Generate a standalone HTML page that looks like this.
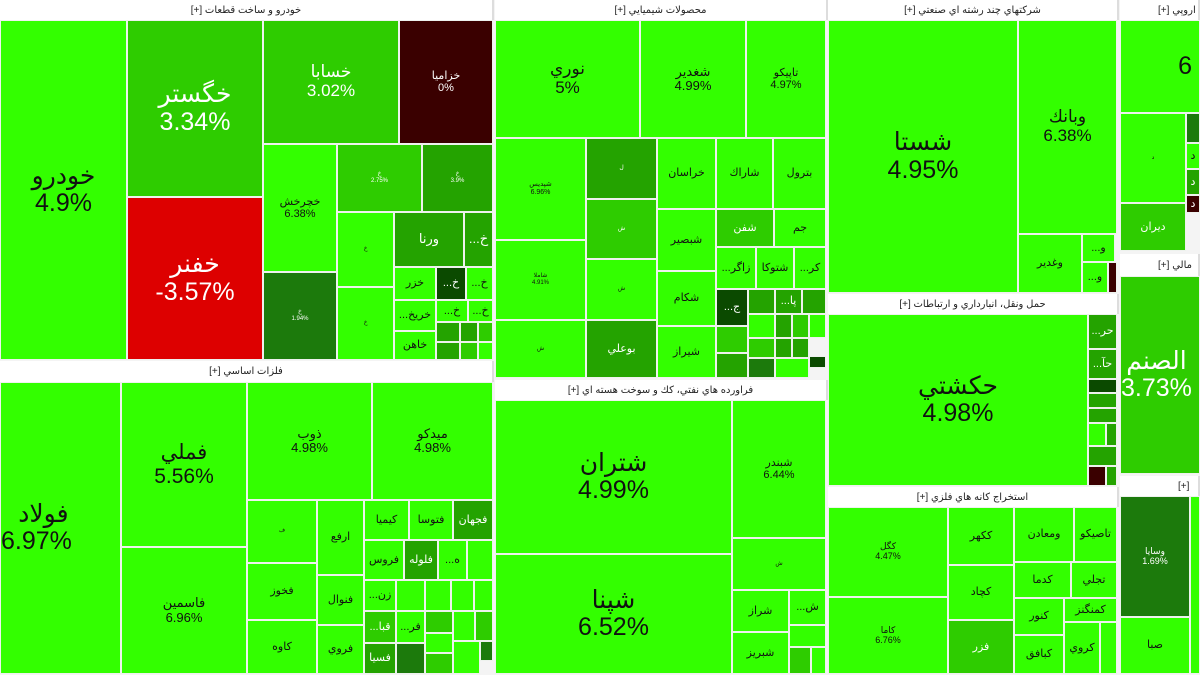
<!DOCTYPE html>
<html><head><meta charset="utf-8"><style>
body{margin:0;width:1200px;height:675px;overflow:hidden;background:#f4f4f4;position:relative;font-family:"Liberation Sans","DejaVu Sans",sans-serif}
.c{position:absolute;box-sizing:border-box;border:1px solid #eef2ee;display:flex;flex-direction:column;align-items:center;justify-content:center;text-align:center;line-height:1.1;color:#111;background:#33ff00;overflow:hidden;white-space:nowrap}
.h{position:absolute;box-sizing:border-box;background:#fff;font-size:10px;color:#222;display:flex;align-items:center;justify-content:center;border-right:2px solid #ddd}
.h span{direction:rtl;unicode-bidi:embed}
.h2{justify-content:flex-start}
.m{background:#2ecc00;color:#fff}.d{background:#24a300;color:#fff}.dd{background:#1c7a0c;color:#fff}.k{background:#0b4a00;color:#fff}.r{background:#dd0000;color:#fff}.mr{background:#3a0000;color:#fff}
.L{font-size:25px}.M{font-size:17px}.S{font-size:13px}.X{font-size:11px}.T{font-size:6px}
</style></head><body>
<div class="h" style="left:0;top:0;width:494px;height:20px"><span>خودرو و ساخت قطعات [+]</span></div>
<div class="c L" style="left:0;top:20px;width:127px;height:340px">خودرو<br>4.9%</div>
<div class="c m L" style="left:127px;top:20px;width:136px;height:177px">خگستر<br>3.34%</div>
<div class="c r L" style="left:127px;top:197px;width:136px;height:163px">خفنر<br>-3.57%</div>
<div class="c m M" style="left:263px;top:20px;width:136px;height:124px">خسابا<br>3.02%</div>
<div class="c mr X" style="left:399px;top:20px;width:94px;height:124px">خزاميا<br>0%</div>
<div class="c X" style="left:263px;top:144px;width:74px;height:128px">خچرخش<br>6.38%</div>
<div class="c m T" style="left:337px;top:144px;width:85px;height:68px">خ<br>2.75%</div>
<div class="c d T" style="left:422px;top:144px;width:71px;height:68px">خ<br>3.9%</div>
<div class="c dd T" style="left:263px;top:272px;width:74px;height:88px">خ<br>1.94%</div>
<div class="c T" style="left:337px;top:212px;width:57px;height:75px">خ</div>
<div class="c T" style="left:337px;top:287px;width:57px;height:73px">خ</div>
<div class="c d S" style="left:394px;top:212px;width:70px;height:55px">ورنا</div>
<div class="c d S" style="left:464px;top:212px;width:29px;height:55px">...خ</div>
<div class="c X" style="left:394px;top:267px;width:42px;height:33px">خزر</div>
<div class="c k X" style="left:436px;top:267px;width:30px;height:33px">...خ</div>
<div class="c X" style="left:466px;top:267px;width:27px;height:33px">...خ</div>
<div class="c X" style="left:394px;top:300px;width:42px;height:31px">...خريخ</div>
<div class="c X" style="left:436px;top:300px;width:32px;height:22px">...خ</div>
<div class="c X" style="left:468px;top:300px;width:25px;height:22px">...خ</div>
<div class="c X" style="left:394px;top:331px;width:42px;height:29px">خاهن</div>
<div class="c d" style="left:436px;top:322px;width:24px;height:20px"></div>
<div class="c d" style="left:460px;top:322px;width:18px;height:20px"></div>
<div class="c m" style="left:478px;top:322px;width:15px;height:20px"></div>
<div class="c d" style="left:436px;top:342px;width:24px;height:18px"></div>
<div class="c m" style="left:460px;top:342px;width:18px;height:18px"></div>
<div class="c" style="left:478px;top:342px;width:15px;height:18px"></div>

<div class="h" style="left:0;top:361px;width:494px;height:21px"><span>فلزات اساسي [+]</span></div>
<div class="c L" style="left:0;top:382px;width:121px;height:292px;align-items:flex-start">&nbsp;&nbsp;فولاد<br>6.97%</div>
<div class="c L" style="left:121px;top:382px;width:126px;height:165px;font-size:21px">فملي<br>5.56%</div>
<div class="c S" style="left:121px;top:547px;width:126px;height:127px">فاسمين<br>6.96%</div>
<div class="c S" style="left:247px;top:382px;width:125px;height:118px">ذوب<br>4.98%</div>
<div class="c S" style="left:372px;top:382px;width:121px;height:118px">ميدكو<br>4.98%</div>
<div class="c T" style="left:247px;top:500px;width:70px;height:63px">ف</div>
<div class="c X" style="left:317px;top:500px;width:47px;height:75px">ارفع</div>
<div class="c X" style="left:247px;top:563px;width:70px;height:57px">فخوز</div>
<div class="c X" style="left:247px;top:620px;width:70px;height:54px">كاوه</div>
<div class="c X" style="left:317px;top:575px;width:47px;height:50px">فنوال</div>
<div class="c X" style="left:317px;top:625px;width:47px;height:49px">فروي</div>
<div class="c X" style="left:364px;top:500px;width:45px;height:40px">كيميا</div>
<div class="c X" style="left:409px;top:500px;width:44px;height:40px">فتوسا</div>
<div class="c d X" style="left:453px;top:500px;width:40px;height:40px">فجهان</div>
<div class="c X" style="left:364px;top:540px;width:40px;height:40px">فروس</div>
<div class="c d X" style="left:404px;top:540px;width:34px;height:40px">فلوله</div>
<div class="c X" style="left:438px;top:540px;width:29px;height:40px">...ه</div>
<div class="c" style="left:467px;top:540px;width:26px;height:40px"></div>
<div class="c X" style="left:364px;top:580px;width:32px;height:31px">...زن</div>
<div class="c" style="left:396px;top:580px;width:29px;height:31px"></div>
<div class="c" style="left:425px;top:580px;width:26px;height:31px"></div>
<div class="c" style="left:451px;top:580px;width:23px;height:31px"></div>
<div class="c" style="left:474px;top:580px;width:19px;height:31px"></div>
<div class="c m X" style="left:364px;top:611px;width:32px;height:32px">...قبا</div>
<div class="c X" style="left:396px;top:611px;width:29px;height:32px">...فر</div>
<div class="c m" style="left:425px;top:611px;width:28px;height:22px"></div>
<div class="c" style="left:453px;top:611px;width:22px;height:30px"></div>
<div class="c m" style="left:475px;top:611px;width:18px;height:30px"></div>
<div class="c d X" style="left:364px;top:643px;width:32px;height:31px">فسيا</div>
<div class="c dd" style="left:396px;top:643px;width:29px;height:31px"></div>
<div class="c" style="left:425px;top:633px;width:28px;height:20px"></div>
<div class="c m" style="left:425px;top:653px;width:28px;height:21px"></div>
<div class="c" style="left:453px;top:641px;width:27px;height:33px"></div>
<div class="c dd" style="left:480px;top:641px;width:13px;height:20px"></div>

<div class="h" style="left:495px;top:0;width:333px;height:20px"><span>محصولات شيميايي [+]</span></div>
<div class="c M" style="left:495px;top:20px;width:145px;height:118px">نوري<br>5%</div>
<div class="c S" style="left:640px;top:20px;width:106px;height:118px">شغدير<br>4.99%</div>
<div class="c X" style="left:746px;top:20px;width:80px;height:118px">تاپيكو<br>4.97%</div>
<div class="c T" style="left:495px;top:138px;width:91px;height:102px;font-size:7px">شپديس<br>6.96%</div>
<div class="c T" style="left:495px;top:240px;width:91px;height:80px">شاملا<br>4.91%</div>
<div class="c T" style="left:495px;top:320px;width:91px;height:58px">ش</div>
<div class="c d T" style="left:586px;top:138px;width:71px;height:61px">ل</div>
<div class="c m T" style="left:586px;top:199px;width:71px;height:60px">ش</div>
<div class="c T" style="left:586px;top:259px;width:71px;height:61px">ش</div>
<div class="c d X" style="left:586px;top:320px;width:71px;height:58px">بوعلي</div>
<div class="c X" style="left:657px;top:138px;width:59px;height:71px">خراسان</div>
<div class="c X" style="left:657px;top:209px;width:59px;height:62px">شبصير</div>
<div class="c X" style="left:657px;top:271px;width:59px;height:55px">شكام</div>
<div class="c X" style="left:657px;top:326px;width:59px;height:52px">شيراز</div>
<div class="c X" style="left:716px;top:138px;width:57px;height:71px">شاراك</div>
<div class="c X" style="left:773px;top:138px;width:53px;height:71px">بترول</div>
<div class="c m X" style="left:716px;top:209px;width:58px;height:38px">شفن</div>
<div class="c X" style="left:774px;top:209px;width:52px;height:38px">جم</div>
<div class="c X" style="left:716px;top:247px;width:40px;height:42px">...زاگر</div>
<div class="c X" style="left:756px;top:247px;width:38px;height:42px">شتوكا</div>
<div class="c X" style="left:794px;top:247px;width:32px;height:42px">...كر</div>
<div class="c k X" style="left:716px;top:289px;width:32px;height:37px">...ج</div>
<div class="c d" style="left:748px;top:289px;width:27px;height:25px"></div>
<div class="c d X" style="left:775px;top:289px;width:27px;height:25px">...پا</div>
<div class="c d" style="left:802px;top:289px;width:24px;height:25px"></div>
<div class="c m" style="left:716px;top:326px;width:32px;height:27px"></div>
<div class="c d" style="left:716px;top:353px;width:32px;height:25px"></div>
<div class="c" style="left:748px;top:314px;width:27px;height:24px"></div>
<div class="c d" style="left:775px;top:314px;width:17px;height:24px"></div>
<div class="c m" style="left:792px;top:314px;width:17px;height:24px"></div>
<div class="c" style="left:809px;top:314px;width:17px;height:24px"></div>
<div class="c m" style="left:748px;top:338px;width:27px;height:20px"></div>
<div class="c dd" style="left:748px;top:358px;width:27px;height:20px"></div>
<div class="c d" style="left:775px;top:338px;width:17px;height:20px"></div>
<div class="c d" style="left:792px;top:338px;width:17px;height:20px"></div>
<div class="c k" style="left:809px;top:356px;width:17px;height:12px"></div>
<div class="c" style="left:775px;top:358px;width:34px;height:20px"></div>

<div class="h" style="left:495px;top:380px;width:333px;height:20px"><span>فراورده هاي نفتي، كك و سوخت هسته اي [+]</span></div>
<div class="c L" style="left:495px;top:400px;width:237px;height:154px">شتران<br>4.99%</div>
<div class="c L" style="left:495px;top:554px;width:237px;height:120px">شپنا<br>6.52%</div>
<div class="c X" style="left:732px;top:400px;width:94px;height:138px">شبندر<br>6.44%</div>
<div class="c T" style="left:732px;top:538px;width:94px;height:52px">ش</div>
<div class="c X" style="left:732px;top:590px;width:57px;height:42px">شراز</div>
<div class="c X" style="left:789px;top:590px;width:37px;height:35px">...ش</div>
<div class="c X" style="left:732px;top:632px;width:57px;height:42px">شبريز</div>
<div class="c" style="left:789px;top:625px;width:37px;height:22px"></div>
<div class="c m" style="left:789px;top:647px;width:22px;height:27px"></div>
<div class="c" style="left:811px;top:647px;width:15px;height:27px"></div>

<div class="h" style="left:828px;top:0;width:291px;height:20px"><span>شركتهاي چند رشته اي صنعتي [+]</span></div>
<div class="c L" style="left:828px;top:20px;width:190px;height:273px">شستا<br>4.95%</div>
<div class="c M" style="left:1018px;top:20px;width:99px;height:214px">وبانك<br>6.38%</div>
<div class="c X" style="left:1018px;top:234px;width:64px;height:59px">وغدير</div>
<div class="c X" style="left:1082px;top:234px;width:33px;height:28px">...و</div>
<div class="c X" style="left:1082px;top:262px;width:26px;height:31px">...و</div>
<div class="c mr" style="left:1108px;top:262px;width:9px;height:31px"></div>
<div class="h" style="left:828px;top:294px;width:291px;height:20px"><span>حمل ونقل، انبارداري و ارتباطات [+]</span></div>
<div class="c L" style="left:828px;top:314px;width:260px;height:172px">حكشتي<br>4.98%</div>
<div class="c d X" style="left:1088px;top:314px;width:29px;height:35px">...حر</div>
<div class="c d X" style="left:1088px;top:349px;width:29px;height:30px">...حآ</div>
<div class="c k" style="left:1088px;top:379px;width:29px;height:14px"></div>
<div class="c d" style="left:1088px;top:393px;width:29px;height:15px"></div>
<div class="c d" style="left:1088px;top:408px;width:29px;height:15px"></div>
<div class="c" style="left:1088px;top:423px;width:18px;height:23px"></div>
<div class="c d" style="left:1106px;top:423px;width:11px;height:23px"></div>
<div class="c d" style="left:1088px;top:446px;width:29px;height:20px"></div>
<div class="c mr" style="left:1088px;top:466px;width:18px;height:20px"></div>
<div class="c d" style="left:1106px;top:466px;width:11px;height:20px"></div>
<div class="h" style="left:828px;top:487px;width:291px;height:20px"><span>استخراج كانه هاي فلزي [+]</span></div>
<div class="c X" style="left:828px;top:507px;width:120px;height:90px;font-size:9px">كگل<br>4.47%</div>
<div class="c X" style="left:828px;top:597px;width:120px;height:77px;font-size:9px">كاما<br>6.76%</div>
<div class="c X" style="left:948px;top:507px;width:66px;height:58px">ككهر</div>
<div class="c X" style="left:948px;top:565px;width:66px;height:55px">كچاد</div>
<div class="c m X" style="left:948px;top:620px;width:66px;height:54px">فزر</div>
<div class="c X" style="left:1014px;top:507px;width:60px;height:55px">ومعادن</div>
<div class="c X" style="left:1074px;top:507px;width:43px;height:55px">تاصيكو</div>
<div class="c X" style="left:1014px;top:562px;width:57px;height:36px">كدما</div>
<div class="c X" style="left:1071px;top:562px;width:46px;height:36px">تجلي</div>
<div class="c X" style="left:1014px;top:598px;width:50px;height:37px">كنور</div>
<div class="c X" style="left:1064px;top:598px;width:53px;height:24px">كمنگنز</div>
<div class="c X" style="left:1014px;top:635px;width:50px;height:39px">كبافق</div>
<div class="c X" style="left:1064px;top:622px;width:36px;height:52px">كروي</div>
<div class="c" style="left:1100px;top:622px;width:17px;height:52px"></div>

<div class="h h2" style="left:1120px;top:0;width:80px;height:20px;padding-left:38px">[+] اروپي</div>
<div class="c L" style="left:1120px;top:20px;width:80px;height:93px;align-items:flex-end">6&nbsp;</div>
<div class="c T" style="left:1120px;top:113px;width:66px;height:90px">د</div>
<div class="c dd" style="left:1186px;top:113px;width:14px;height:30px"></div>
<div class="c X" style="left:1186px;top:143px;width:14px;height:26px">د</div>
<div class="c d X" style="left:1186px;top:169px;width:14px;height:26px">د</div>
<div class="c mr X" style="left:1186px;top:195px;width:14px;height:18px">د</div>
<div class="c m X" style="left:1120px;top:203px;width:66px;height:48px">ديران</div>
<div class="h h2" style="left:1120px;top:254px;width:80px;height:22px;padding-left:38px">[+] مالي</div>
<div class="c m L" style="left:1120px;top:276px;width:80px;height:198px;align-items:flex-start">الصنم<br>3.73%</div>
<div class="h h2" style="left:1120px;top:476px;width:80px;height:20px;padding-left:58px">[+]</div>
<div class="c dd X" style="left:1120px;top:496px;width:70px;height:121px;font-size:9px">وسايا<br>1.69%</div>
<div class="c X" style="left:1120px;top:617px;width:70px;height:57px">صبا</div>
<div class="c" style="left:1190px;top:496px;width:10px;height:178px"></div>
</body></html>
